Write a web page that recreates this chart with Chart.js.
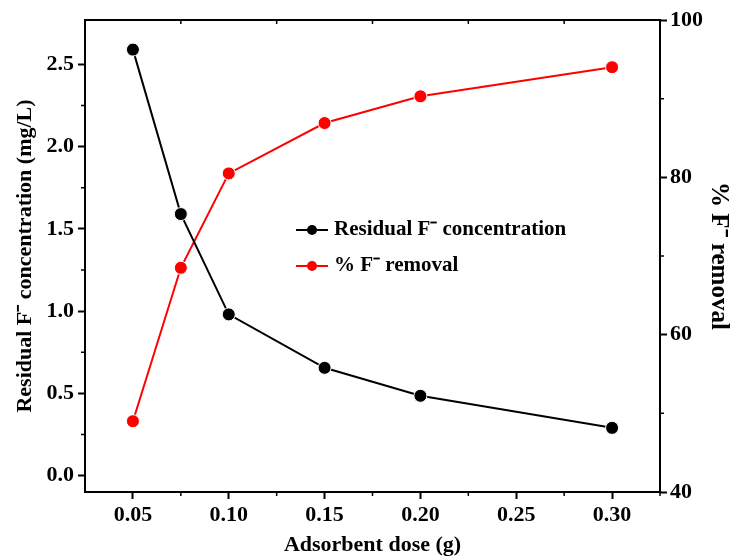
<!DOCTYPE html>
<html>
<head>
<meta charset="utf-8">
<script src="https://cdn.jsdelivr.net/npm/chart.js@4"></script>
<style>
  html, body { margin: 0; padding: 0; background: #fff; }
  #wrap { width: 733px; height: 560px; }
</style>
</head>
<body>
<div id="wrap"><canvas id="chart" width="733" height="560"></canvas></div>
<script>
// data
const doses = [0.05, 0.075, 0.10, 0.15, 0.20, 0.30];
const residualF = [2.59, 1.59, 0.98, 0.655, 0.485, 0.29];
const removalPct = [49.0, 68.5, 80.5, 86.9, 90.3, 94.0];
const xTicks = [0.05, 0.10, 0.15, 0.20, 0.25, 0.30];
const yLeftTicks = [0.0, 0.5, 1.0, 1.5, 2.0, 2.5];
const yRightTicks = [40, 60, 80, 100];

const FONT = '"Liberation Serif", "Times New Roman", serif';
const tickFont = { family: FONT, size: 22, weight: 'bold' };
const titleFont = { family: FONT, size: 22, weight: 'bold' };

const fixTicks = list => scale => { scale.ticks = list.map(v => ({ value: v })); };

// frame + minor ticks
const framePlugin = {
  id: 'frame',
  afterDraw(chart) {
    const { ctx, chartArea: a, scales } = chart;
    ctx.save();
    ctx.strokeStyle = '#000';
    ctx.lineWidth = 2;
    ctx.strokeRect(a.left, a.top, a.right - a.left, a.bottom - a.top);
    ctx.lineWidth = 1.5;
    ctx.beginPath();
    for (let v = 0.075; v < 0.325; v += 0.05) {
      const px = scales.x.getPixelForValue(v);
      ctx.moveTo(px, a.bottom); ctx.lineTo(px, a.bottom + 4);
      ctx.moveTo(px, a.top); ctx.lineTo(px, a.top + 4);
    }
    for (let v = 0.25; v < 2.7; v += 0.5) {
      const py = scales.y.getPixelForValue(v);
      ctx.moveTo(a.left, py); ctx.lineTo(a.left - 4, py);
    }
    for (let v = 50; v < 100; v += 20) {
      const py = scales.y1.getPixelForValue(v);
      ctx.moveTo(a.right, py); ctx.lineTo(a.right + 4, py);
    }
    ctx.stroke();
    ctx.restore();
  }
};

// legend drawn inside the plot
const legendPlugin = {
  id: 'innerLegend',
  afterDraw(chart) {
    const { ctx, chartArea: a } = chart;
    const x0 = a.left + (a.right - a.left) * 0.367;
    let y = a.top + (a.bottom - a.top) * 0.445;
    ctx.save();
    ctx.font = 'bold 21px ' + FONT;
    ctx.textBaseline = 'middle';
    chart.data.datasets.forEach(ds => {
      ctx.strokeStyle = ds.borderColor;
      ctx.lineWidth = 2;
      ctx.beginPath();
      ctx.moveTo(x0, y); ctx.lineTo(x0 + 32, y);
      ctx.stroke();
      ctx.fillStyle = ds.borderColor;
      ctx.beginPath();
      ctx.arc(x0 + 16, y, 5, 0, Math.PI * 2);
      ctx.fill();
      ctx.fillStyle = '#000';
      ctx.fillText(ds.label, x0 + 38, y);
      y += 36;
    });
    ctx.restore();
  }
};

new Chart(document.getElementById('chart').getContext('2d'), {
  type: 'line',
  data: {
    datasets: [
      {
        label: 'Residual F\u207B concentration',
        data: doses.map((d, i) => ({ x: d, y: residualF[i] })),
        borderColor: '#000', backgroundColor: '#000',
        borderWidth: 2, pointRadius: 6.5, pointBorderColor: '#fff', pointBorderWidth: 1,
        yAxisID: 'y'
      },
      {
        label: '% F\u207B removal',
        data: doses.map((d, i) => ({ x: d, y: removalPct[i] })),
        borderColor: '#ff0000', backgroundColor: '#ff0000',
        borderWidth: 2, pointRadius: 6.5, pointBorderColor: '#fff', pointBorderWidth: 1,
        yAxisID: 'y1'
      }
    ]
  },
  options: {
    responsive: false,
    animation: false,
    layout: { padding: { top: 20, left: 0, right: 0, bottom: 0 } },
    plugins: { legend: { display: false }, tooltip: { enabled: false } },
    scales: {
      x: {
        type: 'linear', min: 0.025, max: 0.325,
        afterBuildTicks: fixTicks(xTicks),
        afterFit: s => { s.height = 68; },
        border: { display: false },
        grid: { drawOnChartArea: false, tickLength: 7, tickWidth: 2, color: '#000' },
        ticks: { font: tickFont, color: '#000', padding: 3, callback: v => v.toFixed(2) },
        title: { display: true, text: 'Adsorbent dose (g)', font: titleFont, color: '#000', padding: { top: 0, bottom: 1 } }
      },
      y: {
        type: 'linear', position: 'left', min: -0.1, max: 2.77,
        afterBuildTicks: fixTicks(yLeftTicks),
        afterFit: s => { s.width = 85; },
        border: { display: false },
        grid: { drawOnChartArea: false, tickLength: 7, tickWidth: 2, color: '#000' },
        ticks: { font: tickFont, color: '#000', padding: 4, callback: v => v.toFixed(1) },
        title: { display: true, text: 'Residual F\u207B concentration (mg/L)', font: titleFont, color: '#000', padding: { top: 12, bottom: 0 } }
      },
      y1: {
        type: 'linear', position: 'right', min: 40, max: 100,
        afterBuildTicks: fixTicks(yRightTicks),
        afterFit: s => { s.width = 73; },
        border: { display: false },
        grid: { drawOnChartArea: false, tickLength: 7, tickWidth: 2, color: '#000' },
        ticks: { font: tickFont, color: '#000', padding: 3 },
        title: { display: true, text: '% F\u207B removal', font: { family: FONT, size: 25, weight: 'bold' }, color: '#000', padding: { top: 0, bottom: 8 } }
      }
    }
  },
  plugins: [framePlugin, legendPlugin]
});
</script>
</body>
</html>
